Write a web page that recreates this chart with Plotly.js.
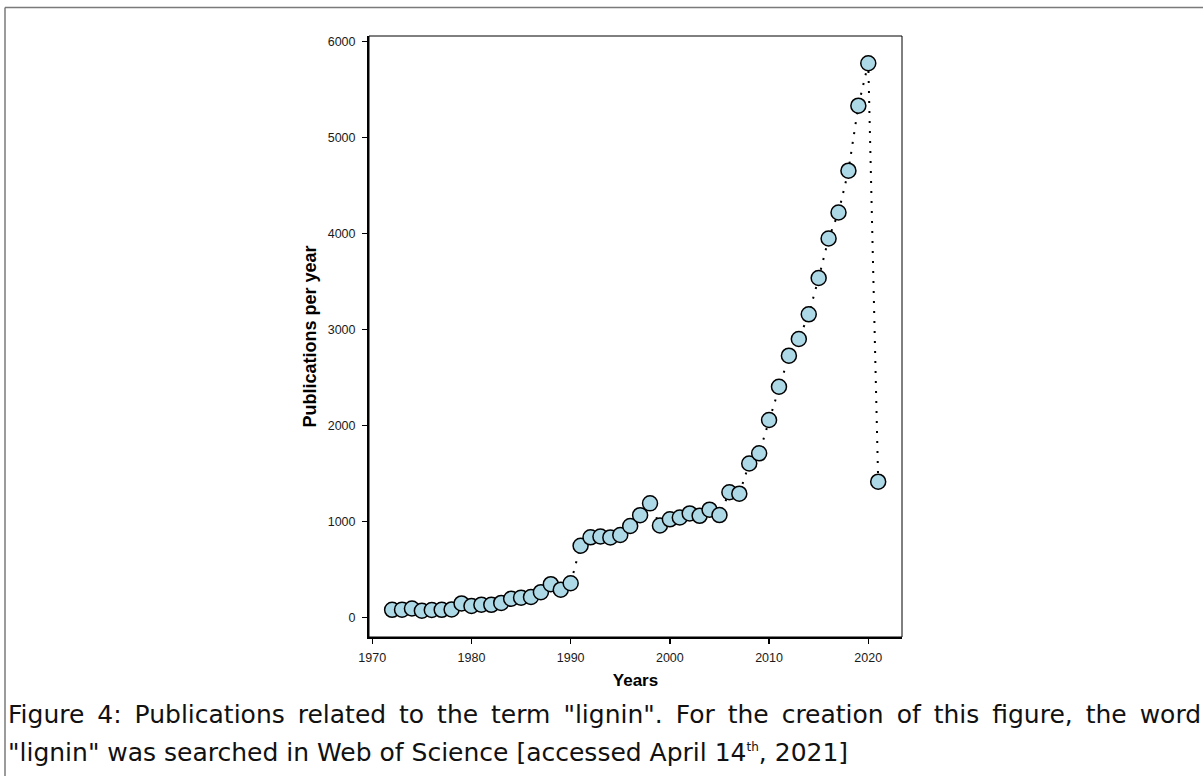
<!DOCTYPE html>
<html>
<head>
<meta charset="utf-8">
<script src="https://cdn.plot.ly/plotly-3.0.1.min.js"></script>
<style>html,body{margin:0;padding:0;background:#fff;}#chart{width:1203px;height:776px;}</style>
</head>
<body>
<div id="chart"></div>
<script>
const years = [1972,1973,1974,1975,1976,1977,1978,1979,1980,1981,1982,1983,1984,1985,1986,1987,1988,1989,1990,
  1991,1992,1993,1994,1995,1996,1997,1998,1999,2000,2001,2002,2003,2004,2005,2006,2007,2008,2009,2010,
  2011,2012,2013,2014,2015,2016,2017,2018,2019,2020,2021];
const publications = [78,80,92,68,76,78,82,145,118,132,130,150,193,205,212,262,345,288,355,
  745,833,842,832,857,951,1064,1187,956,1021,1040,1082,1057,1121,1065,1303,1288,1602,1708,2055,
  2402,2725,2899,3156,3534,3946,4217,4652,5329,5771,1413];
const xTicks = [1970,1980,1990,2000,2010,2020];
const yTicks = [0,1000,2000,3000,4000,5000,6000];
const xTitle = "Years";
const yTitle = "Publications per year";
const T = "\u2009";
const captionLine1 = ["Figure","4:","Publications","related","to","the","term","\"lignin\".","For","the","creation","of","this","figure,","the","word"].join(" " + T);
const captionLine2 = "\"lignin\" was searched in Web of Science [accessed April 14<sup><span style=\"font-size:12px\">th</span></sup>, 2021]";

// plot area in pixels: left 369, right 902, top 36, bottom 637
const L = 369, R = 902, TOP = 36, BOT = 637;
const px = v => (v - L) / (R - L);
const py = v => (BOT - v) / (BOT - TOP);

const trace = {
  x: years, y: publications, type: "scatter", mode: "lines+markers",
  line: {color: "#000", width: 2, dash: "2px,8px"},
  marker: {size: 15, color: "#ADD8E6", line: {color: "#000", width: 1.5}},
  hoverinfo: "x+y", cliponaxis: false
};

const tickFont = {family: "Liberation Sans, Arial, sans-serif", size: 12.5, color: "#1a1a1a"};

const layout = {
  width: 1203, height: 776,
  margin: {l: L, r: 1203 - R, t: TOP, b: 776 - BOT, pad: 0},
  paper_bgcolor: "#fff", plot_bgcolor: "#fff",
  showlegend: false,
  xaxis: {
    range: [1969.67, 2023.4], tickvals: xTicks, ticktext: xTicks.map(String),
    ticks: "outside", ticklen: 5, tickwidth: 1.5, tickcolor: "#000",
    showline: true, linewidth: 2, linecolor: "#000", ticklabelstandoff: 3,
    showgrid: false, zeroline: false, tickfont: tickFont,
    title: {text: xTitle, font: {family: "Liberation Sans, Arial, sans-serif", size: 17, color: "#000", weight: "bold"}, standoff: 10}
  },
  yaxis: {
    range: [-205, 6055], tickvals: yTicks, ticktext: yTicks.map(String),
    ticks: "outside", ticklen: 5, tickwidth: 1.5, tickcolor: "#000",
    showline: true, linewidth: 2, linecolor: "#000", ticklabelstandoff: 4,
    showgrid: false, zeroline: false, tickfont: tickFont,
    title: {text: yTitle, font: {family: "Liberation Sans, Arial, sans-serif", size: 18, color: "#000", weight: "bold"}, standoff: 6}
  },
  shapes: [
    {type: "rect", xref: "paper", yref: "paper", x0: 0, x1: 1, y0: 0, y1: 1, line: {color: "#000", width: 1}, layer: "above"},
    {type: "line", xref: "paper", yref: "paper", x0: px(5), x1: px(1204), y0: py(7.5), y1: py(7.5), line: {color: "#7a7a7a", width: 1.5}},
    {type: "line", xref: "paper", yref: "paper", x0: px(5), x1: px(5), y0: py(7.5), y1: py(777), line: {color: "#7a7a7a", width: 1.5}}
  ],
  annotations: [
    {xref: "paper", yref: "paper", x: px(6), y: py(715), xanchor: "left", yanchor: "middle", showarrow: false,
     text: captionLine1, font: {family: "DejaVu Sans", size: 25, color: "#111"}},
    {xref: "paper", yref: "paper", x: px(6), y: py(752), xanchor: "left", yanchor: "middle", showarrow: false,
     text: captionLine2, font: {family: "DejaVu Sans", size: 25, color: "#111"}}
  ]
};

Plotly.newPlot("chart", [trace], layout, {displayModeBar: false, staticPlot: true});
</script>
</body>
</html>
